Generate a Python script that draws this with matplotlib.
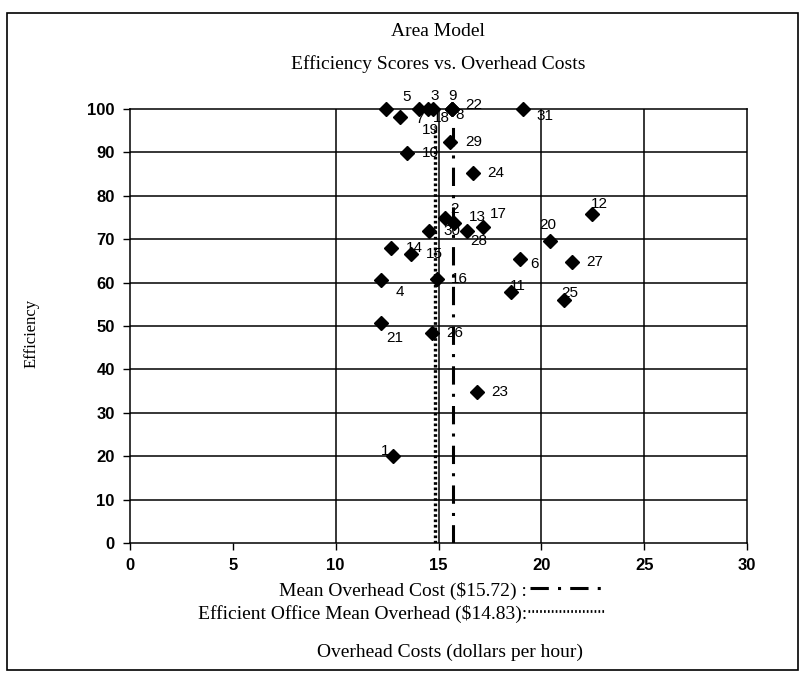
import matplotlib
matplotlib.use("Agg")
import matplotlib.pyplot as plt
from matplotlib.lines import Line2D
from matplotlib.patches import Rectangle

# office number, overhead cost ($/hour), efficiency score
office = [1, 2, 3, 4, 5, 6, 7, 8, 9, 10, 11, 12, 13, 14, 15, 16,
          17, 18, 19, 20, 21, 22, 23, 24, 25, 26, 27, 28, 29, 30, 31]
cost = [12.8, 15.3, 14.47, 12.2, 12.45, 18.96, 13.13, 15.64, 15.64, 13.48, 18.52,
        22.47, 15.75, 12.69, 13.66, 14.91, 17.18, 14.74, 14.07, 20.42, 12.2,
        15.64, 16.85, 16.66, 21.1, 14.67, 21.5, 16.37, 15.58, 14.55, 19.12]
efficiency = [20, 74.9, 100, 60.5, 100, 65.4, 98.1, 100, 100, 89.9, 57.9,
              75.8, 73.7, 67.9, 66.6, 60.9, 72.9, 100, 100, 69.7, 50.6,
              100, 34.9, 85.2, 56.0, 48.3, 64.8, 72.0, 92.5, 72.0, 100]

mean_cost = 15.72
efficient_mean = 14.83

# label offsets in pixels (default is to the right of the marker)
label_off = {1: (-8, 5), 2: (10, 9), 3: (7, 13), 4: (19, -12), 5: (21, 12),
             6: (15, -5), 7: (19, -2), 8: (8, -6), 9: (1, 13), 11: (7, 6),
             12: (7, 10), 13: (23, 6), 17: (15, 13), 18: (8, -9), 19: (11, -21),
             20: (-2, 16), 21: (14, -15), 22: (22, 4), 25: (6, 7), 28: (12, -10),
             31: (22, -7)}

W, H = 808, 675
fig = plt.figure(figsize=(W / 100, H / 100), dpi=100)
ax = fig.add_axes([130 / W, 1 - 543 / H, 617 / W, 434 / H])

ax.set_xlim(0, 30)
ax.set_ylim(0, 100)
ax.set_xticks(range(0, 31, 5))
ax.set_yticks(range(0, 101, 10))
for y in range(10, 100, 10):
    ax.axhline(y, color="black", lw=1.1, zorder=1)
for x in [10, 15, 20, 25]:
    ax.axvline(x, color="black", lw=1.1, zorder=1)
for s in ax.spines.values():
    s.set_linewidth(1.1)

ax.tick_params(direction="out", length=5, width=1.0, labelsize=12, pad=6)
for lab in ax.get_xticklabels() + ax.get_yticklabels():
    lab.set_family("Liberation Sans")
    lab.set_fontweight("bold")

ax.plot([mean_cost, mean_cost], [0, 97], color="black", lw=2.2,
        dashes=(6, 3, 1, 3), zorder=2)
ax.plot([efficient_mean, efficient_mean], [0, 96], color="black", lw=2.4,
        dashes=(0.8, 0.8), zorder=2)

ax.plot(cost, efficiency, "D", color="black", markersize=7.2, zorder=3,
        clip_on=False)
for o, x, y in zip(office, cost, efficiency):
    dx, dy = label_off.get(o, (23, 0))
    ax.annotate(str(o), (x, y), xytext=(dx, dy), textcoords="offset pixels",
                ha="center", va="center", fontsize=11,
                family="Liberation Sans", zorder=4, annotation_clip=False)

serif = "Liberation Serif"
fig.text(438 / W, 1 - 31 / H, "Area Model", ha="center", va="center",
         fontsize=14, family=serif)
fig.text(438 / W, 1 - 64 / H, "Efficiency Scores vs. Overhead Costs",
         ha="center", va="center", fontsize=14, family=serif)
fig.text(32 / W, 1 - 333 / H, "Efficiency", rotation=90, ha="center",
         va="center", fontsize=12, family=serif)

fig.text(527 / W, 1 - 591 / H, "Mean Overhead Cost ($15.72) :", ha="right",
         va="center", fontsize=14, family=serif)
fig.text(527 / W, 1 - 614 / H, "Efficient Office Mean Overhead ($14.83):",
         ha="right", va="center", fontsize=14, family=serif)
fig.add_artist(Line2D([530 / W, 607 / W], [1 - 588 / H, 1 - 588 / H],
                      color="black", lw=2.2, dashes=(6, 3, 1, 3)))
fig.add_artist(Line2D([528 / W, 605 / W], [1 - 611 / H, 1 - 611 / H],
                      color="black", lw=2.0, dashes=(0.6, 0.8)))
fig.text(450 / W, 1 - 652 / H, "Overhead Costs (dollars per hour)",
         ha="center", va="center", fontsize=14, family=serif)

fig.add_artist(Rectangle((7 / W, 5 / H), 791 / W, 657 / H, fill=False,
                         edgecolor="black", lw=1.2, transform=fig.transFigure))

fig.savefig("out.png", dpi=100)
